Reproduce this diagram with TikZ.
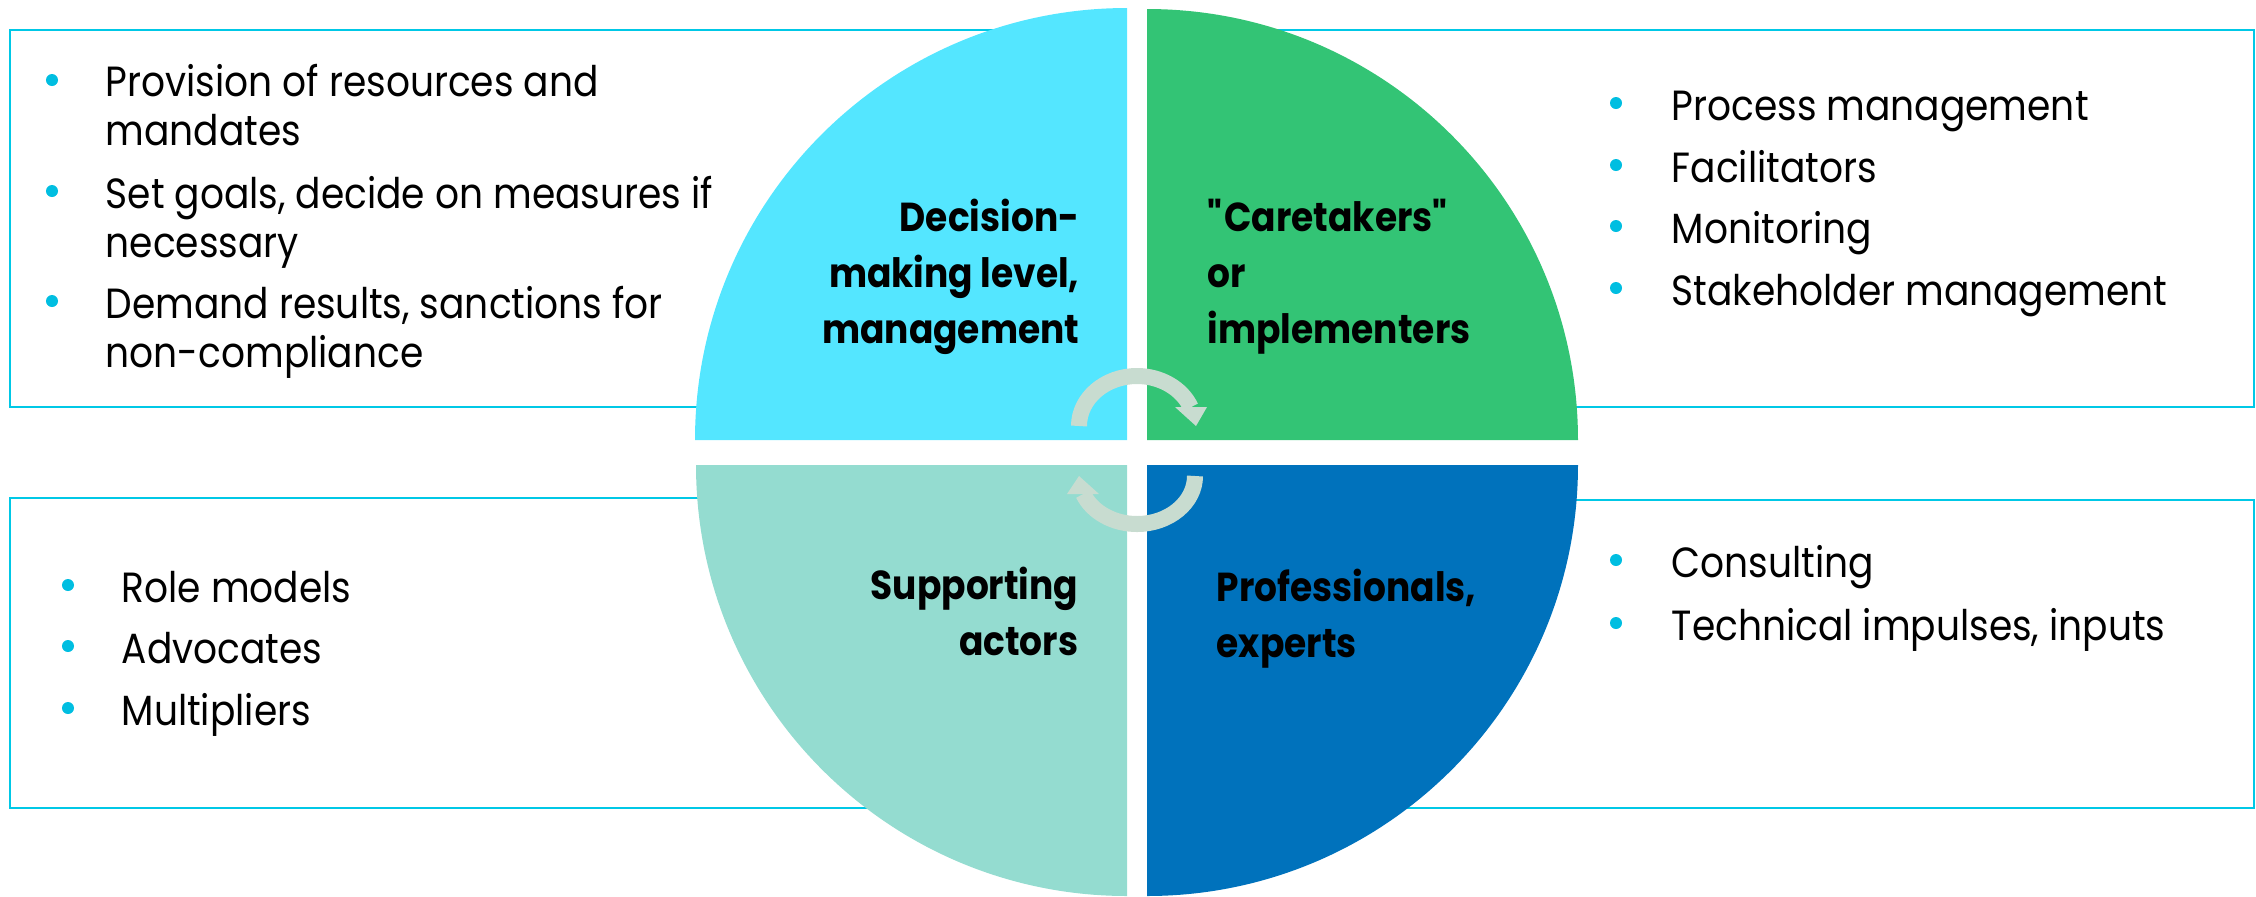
\documentclass[tikz,border=0pt]{standalone}
\usepackage{fontspec}
\setmainfont{Poppins}[FakeStretch=0.89]
\usepackage{tikz}
\definecolor{decision}{RGB}{84,230,255}
\definecolor{caretaker}{RGB}{51,196,117}
\definecolor{expert}{RGB}{0,114,188}
\definecolor{support}{RGB}{148,220,208}
\definecolor{frame}{RGB}{0,200,230}
\definecolor{dot}{RGB}{0,190,225}
\definecolor{cyclecol}{RGB}{200,220,208}

\begin{document}
\begin{tikzpicture}[x=0.01cm, y=-0.01cm,
  listbox/.style={draw=frame, line width=0.02cm},
  item/.style={anchor=base west, align=left, inner sep=0pt, font=\fontsize{12}{13.66}\selectfont},
  dotmark/.style={circle, fill=dot, inner sep=0pt, minimum size=0.12cm},
  role/.style={inner sep=0pt, font=\bfseries\fontsize{11.5}{15.9}\selectfont},
  cycleline/.style={draw=cyclecol, line width=0.16cm},
  cyclehead/.style={fill=cyclecol}]
\useasboundingbox (0,0) rectangle (2256,896);

% Rahmen hinter dem Kreis
\draw[listbox] (10,30) rectangle (1100,407);
\draw[listbox] (1170,30) rectangle (2254,407);
\draw[listbox] (10,498) rectangle (1100,808);
\draw[listbox] (1170,500) rectangle (2254,808);

% Viertelkreise
\fill[decision] (1127,440) -- ++(-432,0) arc[start angle=180, end angle=270, radius=432] -- cycle;
\fill[caretaker] (1147,440) -- ++(431,0) arc[start angle=0, end angle=-90, radius=431] -- cycle;
\fill[support] (1127,465) -- ++(-431,0) arc[start angle=180, end angle=90, radius=431] -- cycle;
\fill[expert] (1147,465) -- ++(431,0) arc[start angle=0, end angle=90, radius=431] -- cycle;

% Kreislauf-Pfeile
\draw[cycleline] (1079,426) arc[start angle=-180, end angle=-22, x radius=58, y radius=50];
\fill[cyclehead] (1175,407) -- (1207,407) -- (1196,426) -- cycle;
\draw[cycleline] (1195,476) arc[start angle=0, end angle=158, x radius=58, y radius=48];
\fill[cyclehead] (1067,494) -- (1099,494) -- (1079,476) -- cycle;

% Rollen (Anker = Grundlinie der letzten Zeile)
\node[role, anchor=base east, align=right] (decide) at (1080,343) {Decision-\\making level,\\management};
\node[role, anchor=base west, align=left] (care) at (1207,343) {\textquotedbl Caretakers\textquotedbl\\or\\implementers};
\node[role, anchor=base east, align=right] (support) at (1079,655) {Supporting\\actors};
\node[role, anchor=base west, align=left] (pro) at (1216,657) {Professionals,\\experts};

% Aufgaben oben links
\node[dotmark] (dl1) at (52,80) {};
\node[item] (l1) at (105,145) {Provision of resources and\\mandates};
\node[dotmark] (dl2) at (52,191) {};
\node[item] (l2) at (105,257) {Set goals, decide on measures if\\necessary};
\node[dotmark] (dl3) at (52,301) {};
\node[item] (l3) at (105,367) {Demand results, sanctions for\\non-compliance};

% Aufgaben oben rechts
\node[dotmark] (dr1) at (1616,103) {};
\node[item] (r1) at (1671,120) {Process management};
\node[dotmark] (dr2) at (1616,165) {};
\node[item] (r2) at (1671,182) {Facilitators};
\node[dotmark] (dr3) at (1616,226) {};
\node[item] (r3) at (1671,243) {Monitoring};
\node[dotmark] (dr4) at (1616,288) {};
\node[item] (r4) at (1671,305) {Stakeholder management};

% Aufgaben unten links
\node[dotmark] (ds1) at (68,585) {};
\node[item] (s1) at (121,602) {Role models};
\node[dotmark] (ds2) at (68,646) {};
\node[item] (s2) at (121,663) {Advocates};
\node[dotmark] (ds3) at (68,708) {};
\node[item] (s3) at (121,725) {Multipliers};

% Aufgaben unten rechts
\node[dotmark] (dp1) at (1616,560) {};
\node[item] (p1) at (1671,577) {Consulting};
\node[dotmark] (dp2) at (1616,623) {};
\node[item] (p2) at (1671,640) {Technical impulses, inputs};
\end{tikzpicture}
\end{document}
